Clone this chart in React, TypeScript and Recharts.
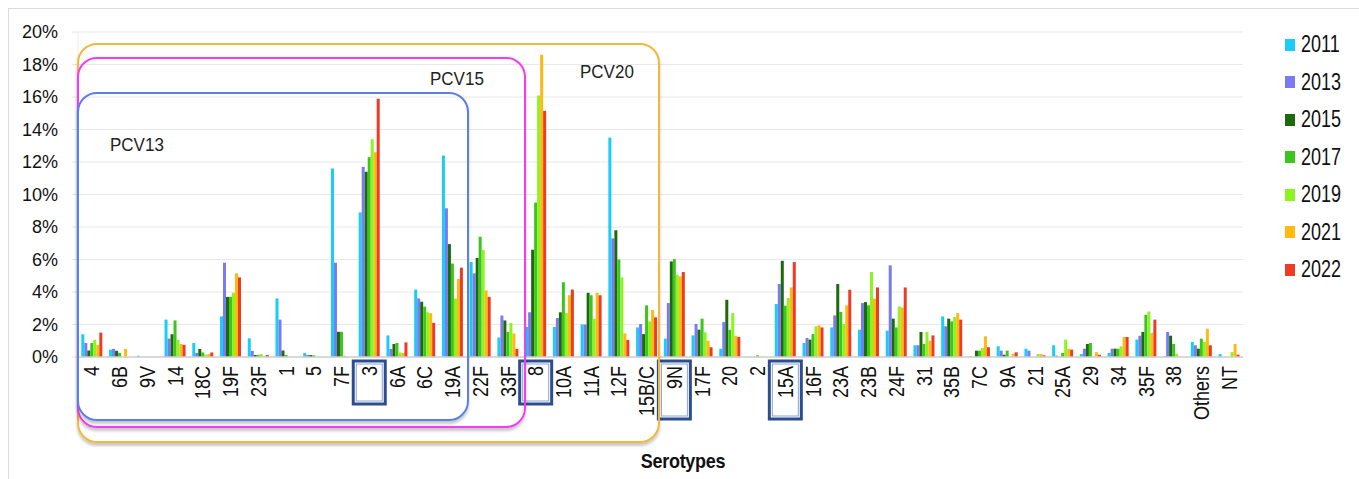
import React from "react";
import { BarChart, Bar, XAxis, YAxis, CartesianGrid } from "recharts";

// serotypes on the x axis
const serotypes = [
  "4", "6B", "9V", "14", "18C", "19F", "23F", "1", "5", "7F",
  "3", "6A", "6C", "19A", "22F", "33F", "8", "10A", "11A", "12F",
  "15B/C", "9N", "17F", "20", "2", "15A", "16F", "23A", "23B", "24F",
  "31", "35B", "7C", "9A", "21", "25A", "29", "34", "35F", "38",
  "Others", "NT",
];

// share of isolates (%) per survey year
const y2011 = [1.4, 0.45, 0.08, 2.3, 0.86, 2.5, 1.15, 3.6, 0.25, 11.6, 8.9, 1.33, 4.15, 12.4, 5.85, 1.2, 1.85, 1.85, 2.0, 13.5, 1.82, 1.13, 1.33, 0.51, 0, 3.26, 0.86, 1.82, 1.68, 1.62, 0.72, 2.5, 0.04, 0.66, 0.51, 0.72, 0.18, 0.25, 1.07, 0.04, 0.92, 0.18];
const y2013 = [0.86, 0.5, 0, 1.13, 0.25, 5.8, 0.38, 2.3, 0.12, 5.8, 11.7, 0.5, 3.6, 9.15, 5.15, 2.55, 2.75, 2.4, 2.0, 7.3, 2.03, 3.32, 2.03, 2.15, 0, 4.49, 1.17, 2.56, 3.32, 5.64, 0.72, 1.89, 0, 0.39, 0.39, 0.08, 0.51, 0.51, 1.31, 1.54, 0.72, 0];
const y2015 = [0.4, 0.38, 0, 1.4, 0.5, 3.7, 0.12, 0.4, 0.12, 1.55, 11.4, 0.8, 3.4, 6.95, 6.1, 2.25, 6.6, 2.75, 3.95, 7.8, 1.41, 5.88, 1.68, 3.52, 0, 5.92, 1.07, 4.49, 3.38, 2.36, 1.54, 2.36, 0.39, 0.14, 0, 0, 0.8, 0.51, 1.54, 1.31, 0.51, 0];
const y2017 = [0.86, 0.25, 0, 2.25, 0.28, 3.7, 0.12, 0.12, 0.1, 1.55, 12.3, 0.86, 3.1, 5.75, 7.4, 1.55, 9.5, 4.6, 3.8, 6.0, 3.18, 6.02, 2.36, 1.68, 0.1, 3.16, 1.41, 2.77, 3.18, 1.82, 0.8, 2.19, 0.39, 0.39, 0, 0.25, 0.86, 0.51, 2.6, 0.8, 1.13, 0];
const y2019 = [1.06, 0, 0, 1.05, 0.14, 3.95, 0.18, 0, 0, 0.08, 13.4, 0.28, 2.75, 3.6, 6.6, 2.1, 16.1, 2.7, 2.35, 4.9, 2.19, 5.06, 1.52, 2.7, 0, 3.63, 1.89, 2.03, 5.23, 3.11, 1.54, 2.46, 0.55, 0, 0.18, 1.07, 0, 0.66, 2.8, 0.2, 0.92, 0.3];
const y2021 = [0.75, 0.5, 0, 0.8, 0.18, 5.15, 0.05, 0, 0, 0, 12.6, 0.25, 2.7, 4.8, 4.1, 1.45, 18.6, 3.8, 3.95, 1.45, 2.9, 4.96, 1.0, 1.31, 0, 4.28, 1.95, 3.18, 3.59, 3.05, 1.0, 2.7, 1.27, 0.2, 0.18, 0.5, 0.3, 1.23, 1.48, 0, 1.74, 0.8];
const y2022 = [1.5, 0, 0, 0.75, 0.28, 4.9, 0.12, 0, 0, 0, 15.9, 0.9, 2.1, 5.5, 3.7, 0.5, 15.15, 4.15, 3.8, 1.05, 2.44, 5.23, 0.6, 1.23, 0, 5.84, 1.82, 4.14, 4.28, 4.28, 1.33, 2.3, 0.6, 0.29, 0.1, 0.45, 0.14, 1.23, 2.3, 0, 0.72, 0.14];

const years = ["2011", "2013", "2015", "2017", "2019", "2021", "2022"];
const yearValues = [y2011, y2013, y2015, y2017, y2019, y2021, y2022];
const yearColors = ["#19cdf7", "#7a7af4", "#1c6a0c", "#3cc51c", "#8cf41e", "#ffb90f", "#ef3a24"];

const yTicks = [0, 2, 4, 6, 8, 10, 12, 14, 16, 18, 20];

// serotypes boxed on the axis
const boxed = ["3", "8", "9N", "15A"];

const data = serotypes.map((s, i) => {
  const row: Record<string, string | number> = { name: s };
  years.forEach((y, k) => {
    row[y] = yearValues[k][i];
  });
  return row;
});

const FONT = "'Liberation Sans', Arial, sans-serif";

function SeroTick(props: any) {
  const { x, y, payload } = props;
  const label = payload.value as string;
  const isBoxed = boxed.includes(label);
  const h = label.length === 1 ? 43 : 58;
  return (
    <g>
      {isBoxed && (
        <>
          <rect x={x - 16} y={y + 4} width={32} height={h} fill="none" stroke="#2c4d8e" strokeWidth={3} />
          <rect x={x - 13} y={y + 7} width={26} height={h - 6} fill="none" stroke="#8aa3d6" strokeWidth={1} />
        </>
      )}
      <text
        transform={`translate(${x},${y + 9}) rotate(-90) scale(1,1.2)`}
        textAnchor="end"
        dominantBaseline="central"
        fontSize={18}
        fontFamily={FONT}
        fill="#111"
      >
        {label}
      </text>
    </g>
  );
}

const boxBase: React.CSSProperties = {
  position: "absolute",
  borderStyle: "solid",
  borderWidth: 2,
  borderRadius: 20,
  boxShadow: "0 3px 3px rgba(0,0,0,0.22)",
  pointerEvents: "none",
};

export default function App() {
  return (
    <div style={{ position: "absolute", left: 0, top: 0, width: 1359, height: 479, background: "#fff", overflow: "hidden", fontFamily: FONT }}>
      {/* frame */}
      <div style={{ position: "absolute", left: 8, top: 8, right: 0, bottom: 0, borderTop: "1px solid #dcdcdc", borderLeft: "1px solid #dcdcdc" }} />

      <BarChart
        width={1359}
        height={479}
        data={data}
        margin={{ top: 32, right: 116, bottom: 22, left: 0 }}
        barCategoryGap="12%"
        barGap={0}
        style={{ position: "absolute", left: 0, top: 0 }}
      >
        <CartesianGrid vertical={false} stroke="#e8e8e8" />
        <XAxis
          dataKey="name"
          interval={0}
          height={100}
          tickLine={false}
          tickSize={0}
          tickMargin={0}
          axisLine={{ stroke: "#cfcfcf", strokeWidth: 1.5 }}
          tick={<SeroTick />}
        />
        <YAxis
          width={78}
          domain={[0, 20]}
          ticks={yTicks}
          tickFormatter={(v) => `${v}%`}
          tickSize={6}
          tickMargin={14}
          tickLine={{ stroke: "#e6e6e6" }}
          axisLine={{ stroke: "#ececec" }}
          tick={{ fontSize: 18, fill: "#111", fontFamily: FONT }}
        />
        {years.map((y, k) => (
          <Bar key={y} dataKey={y} fill={yearColors[k]} isAnimationActive={false} />
        ))}
      </BarChart>

      {/* vaccine coverage groups */}
      <div style={{ ...boxBase, borderColor: "#f5b73a", left: 77, top: 43, width: 579, height: 396 }} />
      <div style={{ ...boxBase, borderColor: "#f23ef0", left: 77, top: 57, width: 445, height: 367 }} />
      <div style={{ ...boxBase, borderColor: "#5b7fea", left: 77, top: 92, width: 388, height: 325 }} />
      <div style={{ position: "absolute", left: 110, top: 135, fontSize: 17, color: "#222", transform: "scaleY(1.1)" }}>PCV13</div>
      <div style={{ position: "absolute", left: 430, top: 69, fontSize: 17, color: "#222", transform: "scaleY(1.1)" }}>PCV15</div>
      <div style={{ position: "absolute", left: 580, top: 62, fontSize: 17, color: "#222", transform: "scaleY(1.1)" }}>PCV20</div>

      {/* legend */}
      <div style={{ position: "absolute", left: 1285, top: 26 }}>
        {years.map((y, k) => (
          <div key={y} style={{ display: "flex", alignItems: "center", height: 37.5 }}>
            <span style={{ width: 10, height: 12, background: yearColors[k], marginRight: 6 }} />
            <span style={{ fontSize: 18, color: "#111", display: "inline-block", transform: "scaleY(1.3)" }}>{y}</span>
          </div>
        ))}
      </div>

      <div style={{ position: "absolute", left: 0, width: 1366, top: 451, textAlign: "center", fontSize: 18, fontWeight: "bold", letterSpacing: -0.3, color: "#111", transform: "scaleY(1.15)" }}>
        Serotypes
      </div>
    </div>
  );
}
